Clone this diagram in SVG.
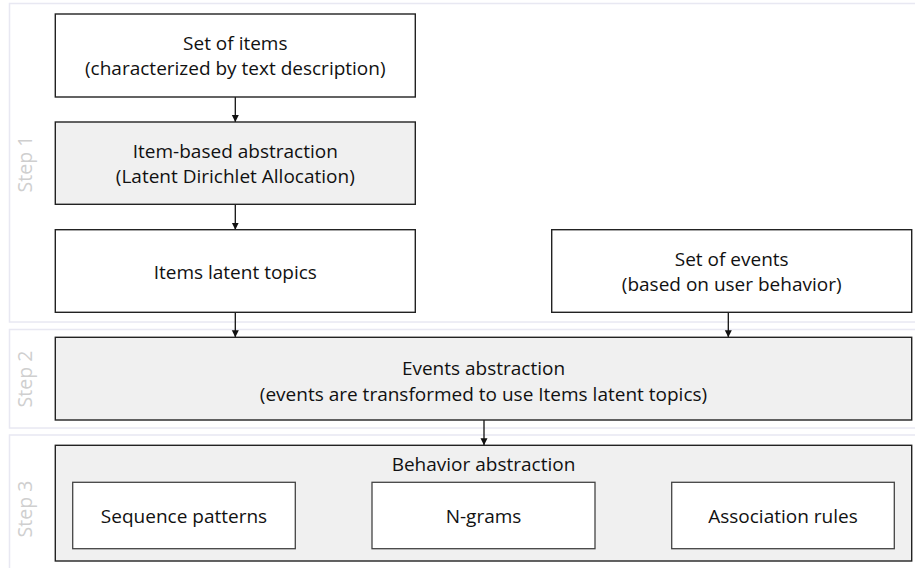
<svg xmlns="http://www.w3.org/2000/svg" width="915" height="568" viewBox="0 0 915 568">
<style>
.panel{fill:#ffffff;stroke:#e8e8f2;stroke-width:1.5}
.box{fill:#ffffff;stroke:#222222;stroke-width:1.4}
.gbox{fill:#f0f0f0;stroke:#222222;stroke-width:1.4}
.ibox{fill:#ffffff;stroke:#444444;stroke-width:1.3}
.t{font-family:"Open Sans","Liberation Sans",sans-serif;font-size:19px;fill:#111111;text-anchor:middle}
.step{font-family:"Open Sans","Liberation Sans",sans-serif;font-size:19.5px;fill:#cfcfcf;text-anchor:middle}
.conn{stroke:#111111;stroke-width:1.3;fill:none;marker-end:url(#ah)}
</style>
<defs>
<marker id="ah" markerWidth="8" markerHeight="8" refX="7" refY="4" orient="auto" markerUnits="userSpaceOnUse">
<path d="M0,0.5 L7,4 L0,7.5 Z" fill="#111111"/>
</marker>
</defs>
<rect width="915" height="568" fill="#ffffff"/>
<g id="panels">
<rect class="panel" x="9.5" y="3.5" width="920" height="318.5"/>
<rect class="panel" x="9.5" y="329.5" width="920" height="98.5"/>
<rect class="panel" x="9.5" y="435" width="920" height="150"/>
<text class="step" transform="translate(31.5,164) rotate(-90)">Step 1</text>
<text class="step" transform="translate(31.5,379) rotate(-90)">Step 2</text>
<text class="step" transform="translate(31.5,509) rotate(-90)">Step 3</text>
</g>
<g id="connectors">
<line class="conn" x1="235.3" y1="97" x2="235.3" y2="122"/>
<line class="conn" x1="235.3" y1="204.3" x2="235.3" y2="229.7"/>
<line class="conn" x1="235.3" y1="312.3" x2="235.3" y2="337.3"/>
<line class="conn" x1="728.3" y1="312.3" x2="728.3" y2="337.3"/>
<line class="conn" x1="484" y1="420" x2="484" y2="445.3"/>
</g>
<g id="set-of-items">
<rect class="box" x="55.3" y="14" width="360" height="83"/>
<text class="t" x="235.3" y="49.5">Set of items</text>
<text class="t" x="235.3" y="75">(characterized by text description)</text>
</g>
<g id="item-based-abstraction">
<rect class="gbox" x="55.3" y="122" width="360" height="82.3"/>
<text class="t" x="235.3" y="157.5">Item-based abstraction</text>
<text class="t" x="235.3" y="183">(Latent Dirichlet Allocation)</text>
</g>
<g id="items-latent-topics">
<rect class="box" x="55.3" y="229.7" width="360" height="82.6"/>
<text class="t" x="235.3" y="278.5">Items latent topics</text>
</g>
<g id="set-of-events">
<rect class="box" x="551.7" y="229.7" width="360" height="82.6"/>
<text class="t" x="731.7" y="265.5">Set of events</text>
<text class="t" x="731.7" y="291">(based on user behavior)</text>
</g>
<g id="events-abstraction">
<rect class="gbox" x="55.3" y="337.3" width="856.4" height="82.7"/>
<text class="t" x="483.5" y="375">Events abstraction</text>
<text class="t" x="483.5" y="400.5">(events are transformed to use Items latent topics)</text>
</g>
<g id="behavior-abstraction">
<rect class="gbox" x="55.3" y="445.3" width="856.4" height="115.7"/>
<text class="t" x="483.5" y="470.5">Behavior abstraction</text>
</g>
<g id="sequence-patterns">
<rect class="ibox" x="72.7" y="482.3" width="222.6" height="66.4"/>
<text class="t" x="184" y="523">Sequence patterns</text>
</g>
<g id="n-grams">
<rect class="ibox" x="372" y="482.3" width="223" height="66.4"/>
<text class="t" x="483.5" y="523">N-grams</text>
</g>
<g id="association-rules">
<rect class="ibox" x="671.7" y="482.3" width="222.6" height="66.4"/>
<text class="t" x="783" y="523">Association rules</text>
</g>
</svg>
